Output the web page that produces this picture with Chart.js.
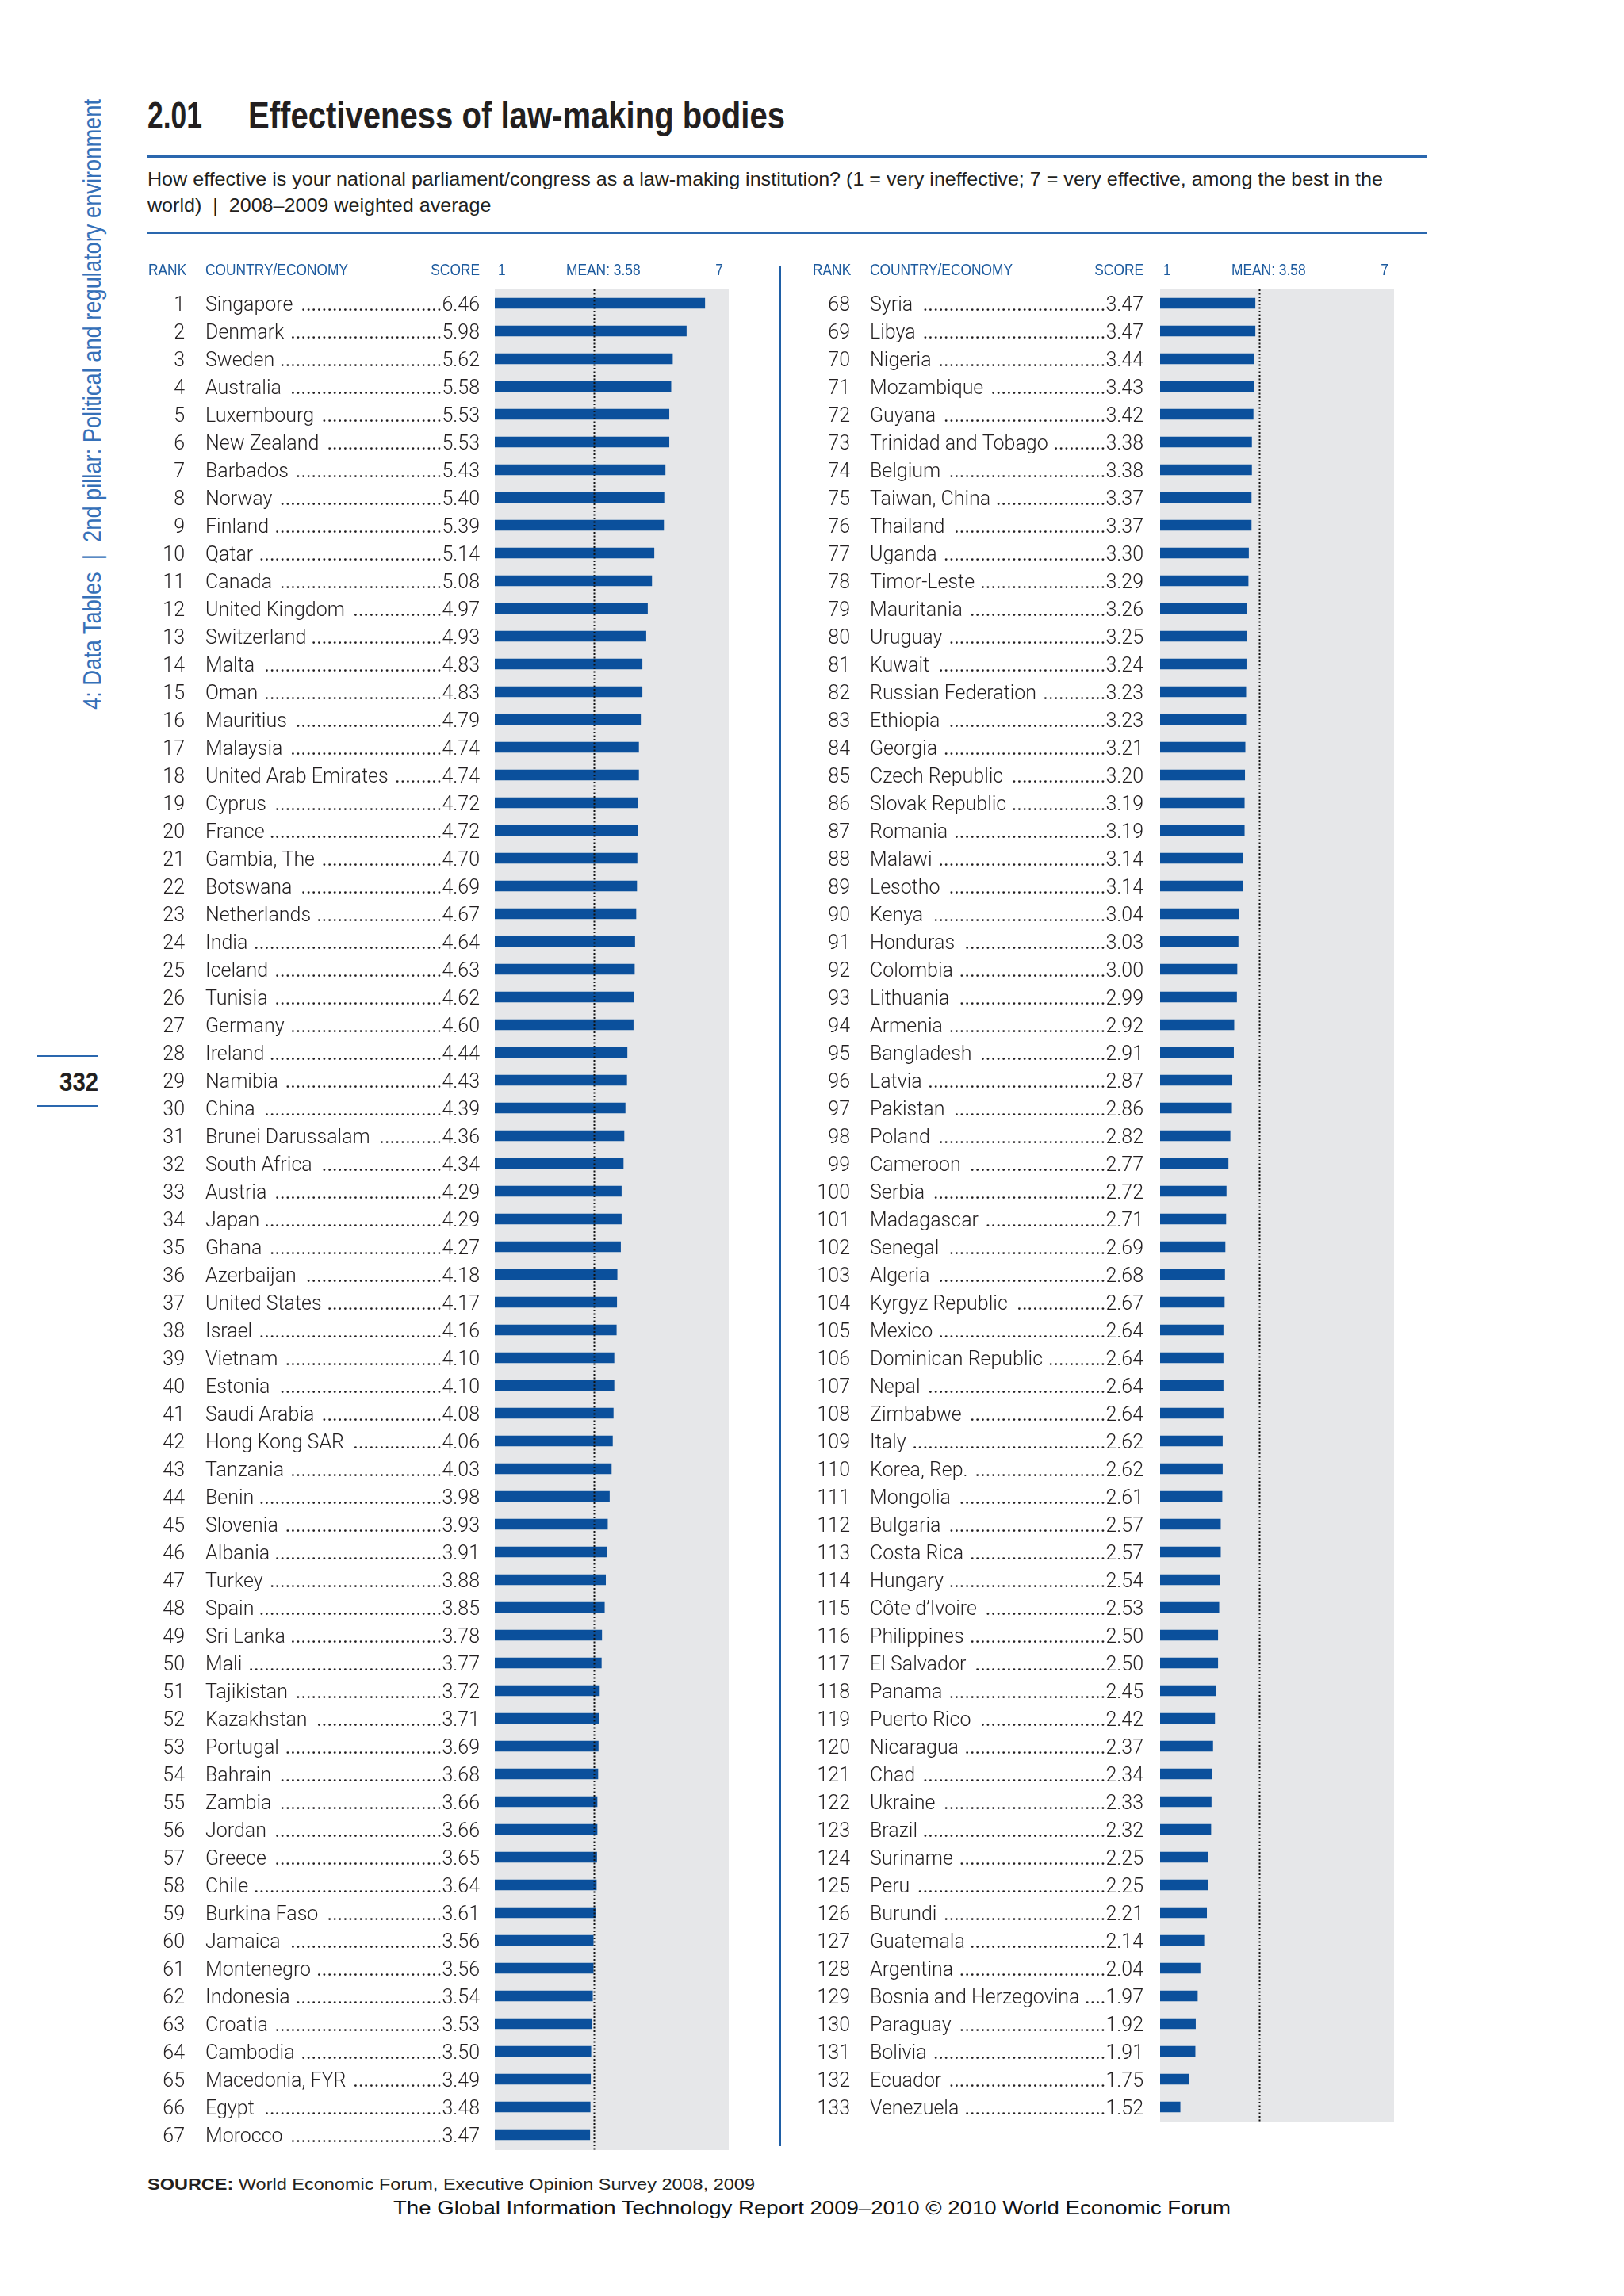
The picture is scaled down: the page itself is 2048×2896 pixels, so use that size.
<!DOCTYPE html>
<html>
<head>
<meta charset="utf-8">
<script src="https://cdn.jsdelivr.net/npm/chart.js@4.4.1/dist/chart.umd.min.js"></script>
<style>
  html, body { margin: 0; padding: 0; background: #fff; }
  #page { position: relative; width: 2048px; height: 2896px; overflow: hidden; background: #fff; }
  .rule { position: absolute; background: #2a67ae; }
  canvas { position: absolute; }
</style>
</head>
<body>
<div id="page">
  <div class="rule" style="left:186px;top:196px;width:1613px;height:3px;"></div>
  <div class="rule" style="left:186px;top:292px;width:1613px;height:3px;"></div>
  <div class="rule" style="left:982px;top:336px;width:3px;height:2371px;background:#1f5fa6;"></div>
  <div class="rule" style="left:47px;top:1331px;width:77px;height:2px;"></div>
  <div class="rule" style="left:47px;top:1394px;width:77px;height:2px;"></div>
  <canvas id="leftChart" width="760" height="2400" style="left:170px;top:320px;"></canvas>
  <canvas id="rightChart" width="760" height="2400" style="left:1010px;top:320px;"></canvas>
</div>
<script>
// ranks 1-67
const leftNames = [
  "Singapore", "Denmark", "Sweden", "Australia", "Luxembourg", "New Zealand",
  "Barbados", "Norway", "Finland", "Qatar", "Canada", "United Kingdom",
  "Switzerland", "Malta", "Oman", "Mauritius", "Malaysia", "United Arab Emirates",
  "Cyprus", "France", "Gambia, The", "Botswana", "Netherlands", "India",
  "Iceland", "Tunisia", "Germany", "Ireland", "Namibia", "China",
  "Brunei Darussalam", "South Africa", "Austria", "Japan", "Ghana", "Azerbaijan",
  "United States", "Israel", "Vietnam", "Estonia", "Saudi Arabia", "Hong Kong SAR",
  "Tanzania", "Benin", "Slovenia", "Albania", "Turkey", "Spain",
  "Sri Lanka", "Mali", "Tajikistan", "Kazakhstan", "Portugal", "Bahrain",
  "Zambia", "Jordan", "Greece", "Chile", "Burkina Faso", "Jamaica",
  "Montenegro", "Indonesia", "Croatia", "Cambodia", "Macedonia, FYR", "Egypt",
  "Morocco",
];
const leftScores = [
  6.46, 5.98, 5.62, 5.58, 5.53, 5.53,
  5.43, 5.40, 5.39, 5.14, 5.08, 4.97,
  4.93, 4.83, 4.83, 4.79, 4.74, 4.74,
  4.72, 4.72, 4.70, 4.69, 4.67, 4.64,
  4.63, 4.62, 4.60, 4.44, 4.43, 4.39,
  4.36, 4.34, 4.29, 4.29, 4.27, 4.18,
  4.17, 4.16, 4.10, 4.10, 4.08, 4.06,
  4.03, 3.98, 3.93, 3.91, 3.88, 3.85,
  3.78, 3.77, 3.72, 3.71, 3.69, 3.68,
  3.66, 3.66, 3.65, 3.64, 3.61, 3.56,
  3.56, 3.54, 3.53, 3.50, 3.49, 3.48,
  3.47,
];

// ranks 68-133
const rightNames = [
  "Syria", "Libya", "Nigeria", "Mozambique", "Guyana", "Trinidad and Tobago",
  "Belgium", "Taiwan, China", "Thailand", "Uganda", "Timor-Leste", "Mauritania",
  "Uruguay", "Kuwait", "Russian Federation", "Ethiopia", "Georgia", "Czech Republic",
  "Slovak Republic", "Romania", "Malawi", "Lesotho", "Kenya", "Honduras",
  "Colombia", "Lithuania", "Armenia", "Bangladesh", "Latvia", "Pakistan",
  "Poland", "Cameroon", "Serbia", "Madagascar", "Senegal", "Algeria",
  "Kyrgyz Republic", "Mexico", "Dominican Republic", "Nepal", "Zimbabwe", "Italy",
  "Korea, Rep.", "Mongolia", "Bulgaria", "Costa Rica", "Hungary", "Côte d’Ivoire",
  "Philippines", "El Salvador", "Panama", "Puerto Rico", "Nicaragua", "Chad",
  "Ukraine", "Brazil", "Suriname", "Peru", "Burundi", "Guatemala",
  "Argentina", "Bosnia and Herzegovina", "Paraguay", "Bolivia", "Ecuador", "Venezuela",
];
const rightScores = [
  3.47, 3.47, 3.44, 3.43, 3.42, 3.38,
  3.38, 3.37, 3.37, 3.30, 3.29, 3.26,
  3.25, 3.24, 3.23, 3.23, 3.21, 3.20,
  3.19, 3.19, 3.14, 3.14, 3.04, 3.03,
  3.00, 2.99, 2.92, 2.91, 2.87, 2.86,
  2.82, 2.77, 2.72, 2.71, 2.69, 2.68,
  2.67, 2.64, 2.64, 2.64, 2.64, 2.62,
  2.62, 2.61, 2.57, 2.57, 2.54, 2.53,
  2.50, 2.50, 2.45, 2.42, 2.37, 2.34,
  2.33, 2.32, 2.25, 2.25, 2.21, 2.14,
  2.04, 1.97, 1.92, 1.91, 1.75, 1.52,
];

const meanScore = 3.58;
const scaleMin = 1;
const scaleMax = 7;
const headerLabels = ["RANK", "COUNTRY/ECONOMY", "SCORE"];
const axisLabels = ["1", "MEAN: 3.58", "7"];

const page = document.getElementById("page");

// put a line of html text on the page by its baseline, optionally squeezed to a width
function place(html, o) {
  const d = document.createElement("div");
  d.style.cssText =
    "position:absolute;left:0;top:0;white-space:nowrap;line-height:1.2;font:" +
    o.font + ";color:" + (o.color || "#231f20") + ";";
  d.innerHTML = html +
    '<span style="display:inline-block;width:0;height:0;vertical-align:baseline"></span>';
  page.appendChild(d);
  const b = d.lastChild.offsetTop;
  const w = d.getBoundingClientRect().width;
  const sx = o.width ? o.width / w : (o.sx || 1);
  if (o.rotate) {
    d.style.left = o.left + "px";
    d.style.top = (o.baseline - b) + "px";
    d.style.transformOrigin = "0 " + b + "px";
    d.style.transform = "rotate(-90deg) scaleX(" + sx + ")";
  } else if (o.right !== undefined) {
    d.style.left = (o.right - w) + "px";
    d.style.top = (o.baseline - b) + "px";
    d.style.transformOrigin = w + "px " + b + "px";
    d.style.transform = "scaleX(" + sx + ")";
  } else {
    d.style.left = o.left + "px";
    d.style.top = (o.baseline - b) + "px";
    d.style.transformOrigin = "0 " + b + "px";
    d.style.transform = "scaleX(" + sx + ")";
  }
  return sx;
}

place("2.01", { left: 186, baseline: 162, font: "bold 49px 'Liberation Sans'", width: 69 });
place("Effectiveness of law-making bodies",
  { left: 313, baseline: 162, font: "bold 49px 'Liberation Sans'", width: 677 });

const subSx = place(
  "How effective is your national parliament/congress as a law-making institution? (1 = very ineffective; 7 = very effective, among the best in the",
  { left: 186, baseline: 234, font: "24px 'Liberation Sans'", width: 1558 });
place("world)&nbsp; |&nbsp; 2008–2009 weighted average",
  { left: 186, baseline: 267, font: "24px 'Liberation Sans'", sx: subSx });

place("4: Data Tables&nbsp; |&nbsp; 2nd pillar: Political and regulatory environment",
  { left: 127, baseline: 895, rotate: true, font: "32px 'Liberation Sans'", color: "#3570b8", width: 770 });

place("332", { right: 124, baseline: 1376, font: "bold 33px 'Liberation Sans'", width: 49 });

place("<b>SOURCE:</b> World Economic Forum, Executive Opinion Survey 2008, 2009",
  { left: 186, baseline: 2762, font: "20px 'Liberation Sans'", width: 766 });
place("The Global Information Technology Report 2009–2010 © 2010 World Economic Forum",
  { left: 496, baseline: 2793, font: "24px 'Liberation Sans'", color: "#111", width: 1056 });

// grey panel, mean line, header and the ranked rows
const tablePlugin = {
  id: "table",
  beforeDraw(chart) {
    const { ctx, chartArea: a } = chart;
    ctx.save();
    ctx.fillStyle = "#e6e7e9";
    ctx.fillRect(a.left, a.top, a.right - a.left + 4, a.bottom - a.top + 2);
    ctx.restore();
  },
  afterDatasetsDraw(chart) {
    const { ctx, chartArea: a } = chart;
    const mx = Math.round(chart.scales.x.getPixelForValue(meanScore)) + 0.5;
    ctx.save();
    ctx.strokeStyle = "#111";
    ctx.lineWidth = 2;
    ctx.setLineDash([2, 2.5]);
    ctx.beginPath();
    ctx.moveTo(mx, a.top);
    ctx.lineTo(mx, a.bottom + 2);
    ctx.stroke();
    ctx.restore();
  },
  afterDraw(chart, args, opts) {
    const { ctx, chartArea: a } = chart;
    const yScale = chart.scales.y;
    const names = chart.data.labels;
    const scores = chart.data.datasets[0].data;

    const squeezed = (text, x, y, align) => {
      ctx.save();
      ctx.translate(x, y);
      ctx.scale(0.89, 1);
      ctx.textAlign = align;
      ctx.fillText(text, 0, 0);
      ctx.restore();
    };

    // header
    ctx.save();
    ctx.font = "19.5px 'Liberation Sans'";
    ctx.fillStyle = "#1c5a9e";
    squeezed(headerLabels[0], opts.rankLeft, 27, "left");
    squeezed(headerLabels[1], opts.nameLeft, 27, "left");
    squeezed(headerLabels[2], opts.scoreRight, 27, "right");
    squeezed(axisLabels[0], a.left + 4, 27, "left");
    squeezed(axisLabels[1], a.left + 90, 27, "left");
    squeezed(axisLabels[2], a.left + 288, 27, "right");
    ctx.restore();

    // rows
    ctx.save();
    ctx.fillStyle = "#231f20";
    names.forEach((name, i) => {
      const cy = yScale.getPixelForValue(i) + 9;
      const s = scores[i].toFixed(2);
      ctx.font = "300 25px Roboto";
      ctx.textAlign = "right";
      ctx.fillText(String(opts.firstRank + i), opts.rankRight, cy);
      ctx.fillText(s, opts.scoreRight, cy);
      ctx.textAlign = "left";
      ctx.fillText(name, opts.nameLeft, cy);
      const sw = ctx.measureText(s).width;
      const nw = ctx.measureText(name + " ").width;
      // leader dots a bit heavier than the light text
      ctx.font = "400 25px Roboto";
      const dotW = ctx.measureText(".").width;
      const n = Math.floor((opts.scoreRight - sw - opts.nameLeft - nw) / dotW);
      ctx.textAlign = "right";
      ctx.fillText(".".repeat(Math.max(n, 0)), opts.scoreRight - sw, cy);
    });
    ctx.restore();
  },
};

function makeChart(id, names, scores, firstRank, padding, cols) {
  const ctx = document.getElementById(id).getContext("2d");
  return new Chart(ctx, {
    type: "bar",
    data: {
      labels: names,
      datasets: [
        {
          data: scores,
          backgroundColor: "#0b509c",
          borderWidth: 0,
          barThickness: 13,
        },
      ],
    },
    options: {
      indexAxis: "y",
      responsive: false,
      animation: false,
      layout: { padding: padding },
      scales: {
        x: { type: "linear", min: scaleMin, max: scaleMax, display: false },
        y: { type: "category", display: false },
      },
      plugins: {
        legend: { display: false },
        tooltip: { enabled: false },
        table: Object.assign({ firstRank: firstRank }, cols),
      },
    },
    plugins: [tablePlugin],
  });
}

makeChart("leftChart", leftNames, leftScores, 1,
  { left: 454, right: 15, top: 45, bottom: 10 },
  { rankLeft: 17, rankRight: 63, nameLeft: 89, scoreRight: 435 });

makeChart("rightChart", rightNames, rightScores, leftNames.length + 1,
  { left: 453, right: 16, top: 45, bottom: 45 },
  { rankLeft: 15, rankRight: 62, nameLeft: 87, scoreRight: 432 });
</script>
</body>
</html>
